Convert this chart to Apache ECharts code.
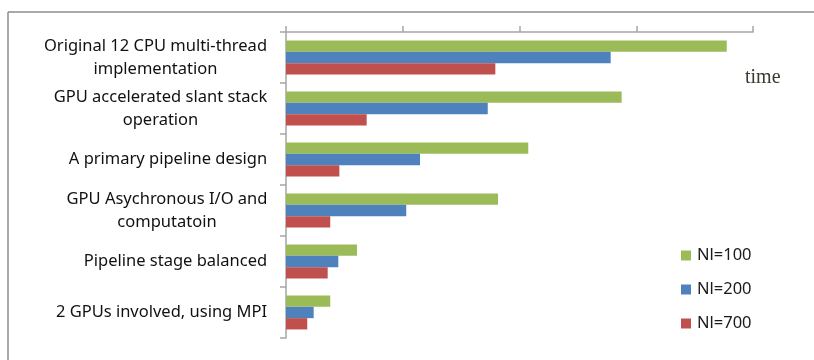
<!DOCTYPE html>
<html>
<head>
<meta charset="utf-8">
<script src="https://cdn.jsdelivr.net/npm/echarts@6/dist/echarts.min.js"></script>
<style>html,body{margin:0;padding:0;background:#fff}#c{width:814px;height:360px}</style>
</head>
<body>
<div id="c"></div>
<script>
var categories = [
  'Original 12 CPU multi-thread\nimplementation',
  'GPU accelerated slant stack\noperation',
  'A primary pipeline design',
  'GPU Asychronous I/O and\ncomputatoin',
  'Pipeline stage balanced',
  '2 GPUs involved, using MPI'
];
var seriesNames = ['Nl=100', 'Nl=200', 'Nl=700'];
var nl100 = [377.5, 287.5, 207.5, 181.6, 60.8, 37.9];
var nl200 = [278.1, 172.8, 114.8, 103.0, 44.8, 23.7];
var nl700 = [179.3, 69.1, 45.7, 37.9, 35.7, 18.2];
var colors = ['#9BBB59', '#4F81BD', '#C0504D'];
var axisMax = 400;
var axisInterval = 100;

var labelFont = '16.5px "Noto Sans"';
var cv = document.createElement('canvas').getContext('2d');
cv.font = labelFont;
var rich = {};
categories.forEach(function (c, i) {
  var w = 0;
  c.split('\n').forEach(function (l) { w = Math.max(w, cv.measureText(l).width); });
  rich['c' + i] = { width: Math.ceil(w) + 1, align: 'center', fontFamily: 'Noto Sans', fontSize: 16.5, color: '#111', lineHeight: 23 };
});

var chart = echarts.init(document.getElementById('c'));
var dataSets = [nl100, nl200, nl700];
var series = seriesNames.map(function (n, i) {
  return {
    name: n, type: 'bar', data: dataSets[i],
    barWidth: 11.3, barGap: '0%',
    itemStyle: { color: colors[i] },
    animation: false
  };
});
chart.setOption({
  animation: false,
  grid: { left: 286, right: 61, top: 32, bottom: 22, containLabel: false },
  legend: {
    orient: 'vertical', left: 681, top: 247, padding: 0,
    itemWidth: 10, itemHeight: 10, itemGap: 17,
    icon: 'rect',
    data: seriesNames,
    textStyle: { fontFamily: 'Noto Sans', fontSize: 16.5, color: '#1a1a1a', padding: [0, 0, 0, 1] }
  },
  xAxis: {
    type: 'value', position: 'top', min: 0, max: axisMax, interval: axisInterval,
    axisLine: { show: true, lineStyle: { color: '#a6a6a6', width: 1.5 } },
    axisTick: { show: true, length: 6, lineStyle: { color: '#a6a6a6', width: 1.5 } },
    axisLabel: { show: false },
    splitLine: { show: false }
  },
  yAxis: {
    type: 'category', inverse: true, data: categories,
    axisLine: { show: true, lineStyle: { color: '#a6a6a6', width: 1.5 } },
    axisTick: { show: true, length: 6, lineStyle: { color: '#a6a6a6', width: 1.5 } },
    axisLabel: {
      margin: 18, align: 'right',
      formatter: function (v, idx) {
        var i = categories.indexOf(v);
        return v.split('\n').map(function (l) { return '{c' + i + '|' + l + '}'; }).join('\n');
      },
      rich: rich
    }
  },
  graphic: [
    { type: 'line', shape: { x1: 8, y1: 12, x2: 814, y2: 12 }, style: { stroke: '#8c8c8c', lineWidth: 1.5 } },
    { type: 'line', shape: { x1: 8, y1: 12, x2: 8, y2: 360 }, style: { stroke: '#8c8c8c', lineWidth: 1.5 } },
    { type: 'text', left: 745, top: 68, style: { text: 'time', font: '20px "Liberation Serif"', fill: '#3d3a2e' } }
  ],
  series: series
});
</script>
</body>
</html>
